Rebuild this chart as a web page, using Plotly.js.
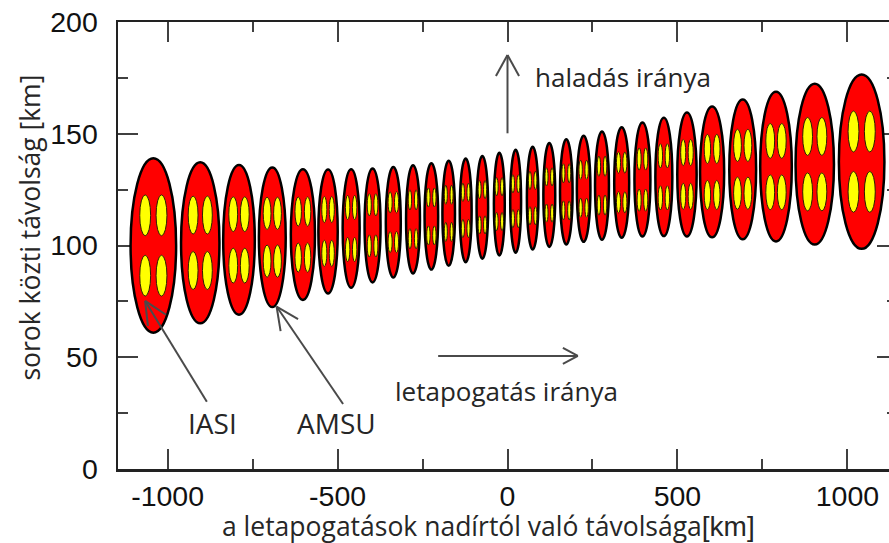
<!DOCTYPE html>
<html>
<head>
<meta charset="utf-8">
<script src="https://cdn.plot.ly/plotly-3.0.1.min.js"></script>
<style>
  html, body { margin: 0; padding: 0; overflow: hidden; background: #fff; }
  #chart { width: 905px; height: 543px; }
</style>
</head>
<body>
<div id="chart"></div>
<script>
// ---- data ----
// AMSU footprint centres across the scan (km from nadir) and along-track position (km)
const scanX = [-1042, -904, -790, -692, -602, -528, -460, -397, -336, -278, -224, -173, -123, -74, -24,
               24, 74, 123, 173, 224, 278, 336, 397, 460, 528, 602, 692, 790, 904, 1042];
const scanY = [100.0, 101.2, 102.5, 103.7, 104.9, 106.3, 107.6, 109.0, 110.4, 111.7, 113.0, 114.4, 115.7, 117.1, 118.5,
               119.8, 121.2, 122.6, 124.0, 125.4, 126.8, 128.2, 129.5, 130.7, 131.8, 132.9, 134.1, 135.3, 136.4, 137.5];
// AMSU footprint size (cross-track width km, along-track height km)
const amsuW = [134, 113, 93, 79, 71, 57, 50, 47, 44, 41, 40, 37, 35, 34, 32,
               32, 34, 35, 37, 40, 41, 44, 47, 50, 57, 71, 79, 93, 113, 134];
const amsuH = [78, 72, 67, 62.5, 58.5, 55.5, 53, 51, 49.5, 48.5, 47.5, 47, 46.5, 46, 46,
               46, 46, 46.5, 47, 47.5, 48.5, 49.5, 51, 53, 55.5, 58.5, 62.5, 67, 72, 78];
// IASI pixels (2x2 inside each AMSU footprint): offsets from centre and size
const iasiDx = [24, 21, 17, 15.3, 13.8, 11, 10.3, 9.7, 9.4, 9.1, 8.8, 8.5, 8.2, 8, 8,
                8, 8, 8.2, 8.5, 8.8, 9.1, 9.4, 9.7, 10.3, 11, 13.8, 15.3, 17, 21, 24];
const iasiDy = [13.5, 12.4, 11.5, 10.7, 10.3, 9.8, 9.4, 9.2, 8.9, 8.7, 8.5, 8.3, 8.1, 7.9, 7.8,
                7.8, 7.9, 8.1, 8.3, 8.5, 8.7, 8.9, 9.2, 9.4, 9.8, 10.3, 10.7, 11.5, 12.4, 13.5];
const iasiW = [32, 29, 26, 23, 19, 15, 13, 12, 12, 10, 10, 9, 9, 9, 9,
               9, 9, 9, 9, 10, 10, 12, 12, 13, 15, 19, 23, 26, 29, 32];
const iasiH = [18.3, 17, 15.6, 14.4, 13, 11.7, 10.8, 9.9, 9.4, 9, 8.5, 8.5, 8.1, 8.1, 8.1,
               8.1, 8.1, 8.1, 8.5, 8.5, 9, 9.4, 9.9, 10.8, 11.7, 13, 14.4, 15.6, 17, 18.3];

// axis ticks
const xTicks = [-1000, -500, 0, 500, 1000];
const yTicks = [0, 50, 100, 150, 200];

// annotation arrows (segments in data units: x0, y0, x1, y1)
const arrowSegs = [
  [0, 150.2, 0, 185.2], [0, 185.2, -34, 175.8], [0, 185.2, 34, 175.8],             // haladás iránya
  [-204, 50.6, 207, 50.6], [207, 50.6, 163, 54.2], [207, 50.6, 163, 47.0],         // letapogatás iránya
  [-884.6, 30.1, -1066.2, 75.2], [-1066.2, 75.2, -1057.9, 64.0], [-1066.2, 75.2, -1005, 69.0], // IASI
  [-483.8, 29.1, -679.4, 72.7], [-679.4, 72.7, -667.6, 61.7], [-679.4, 72.7, -616.2, 67.1]     // AMSU
];
const labelText = ['haladás iránya', 'letapogatás iránya', 'IASI', 'AMSU'];
const labelX = [74, -3, -868, -503];
const labelY = [175.6, 34.9, 20.6, 20.6];
const labelAnchor = ['left', 'center', 'center', 'center'];
const labelSize = [26, 26, 28, 28];

// ---- build shapes ----
const shapes = [];
for (let i = 0; i < scanX.length; i++) {
  const cx = scanX[i], cy = scanY[i];
  shapes.push({
    type: 'circle', xref: 'x', yref: 'y',
    x0: cx - amsuW[i] / 2, x1: cx + amsuW[i] / 2,
    y0: cy - amsuH[i] / 2, y1: cy + amsuH[i] / 2,
    fillcolor: '#ff0000', line: { color: '#000000', width: 2.5 }
  });
  for (const sy of [-1, 1]) {
    for (const sx of [-1, 1]) {
      const px = cx + sx * iasiDx[i], py = cy + sy * iasiDy[i];
      shapes.push({
        type: 'circle', xref: 'x', yref: 'y',
        x0: px - iasiW[i] / 2, x1: px + iasiW[i] / 2,
        y0: py - iasiH[i] / 2, y1: py + iasiH[i] / 2,
        fillcolor: '#ffff00', line: { color: '#2a2200', width: 1 }
      });
    }
  }
}
for (const s of arrowSegs) {
  shapes.push({
    type: 'line', xref: 'x', yref: 'y',
    x0: s[0], y0: s[1], x1: s[2], y1: s[3],
    line: { color: '#4a4a4a', width: 2 }
  });
}

const annotations = labelText.map((t, i) => ({
  text: t, x: labelX[i], y: labelY[i], xref: 'x', yref: 'y',
  xanchor: labelAnchor[i], yanchor: 'middle', showarrow: false,
  font: { family: 'Open Sans', size: labelSize[i], color: '#262626' }
}));
// axis titles (placed as in the reference)
annotations.push({
  text: 'a letapogatások nadírtól való távolsága<span style="font-family:\'Liberation Sans\'; font-size:28px">[km]</span>',
  xref: 'paper', yref: 'paper', x: 0.4756, y: -0.127, xanchor: 'center', yanchor: 'middle',
  showarrow: false, font: { family: 'Open Sans', size: 26.5, color: '#262626' }
});
annotations.push({
  text: 'sorok közti távolság [km]',
  xref: 'paper', yref: 'paper', x: -0.113, y: 0.54, xanchor: 'center', yanchor: 'middle',
  textangle: -90, showarrow: false, font: { family: 'Open Sans', size: 26.5, color: '#262626' }
});

const trace = {
  type: 'scatter', mode: 'markers', x: scanX, y: scanY,
  marker: { size: 1, opacity: 0 }, hoverinfo: 'x+y', showlegend: false
};

const axisCommon = {
  showgrid: false, zeroline: false, showline: true, linecolor: '#222222', linewidth: 2.5,
  mirror: 'ticks', ticks: 'inside', ticklen: 20, tickwidth: 2, tickcolor: '#404040',
  tickfont: { family: 'Liberation Sans', size: 28.5, color: '#111111' }
};

const layout = {
  width: 905, height: 543,
  margin: { l: 118, r: 8, t: 22, b: 74 },
  paper_bgcolor: '#ffffff', plot_bgcolor: '#ffffff',
  showlegend: false,
  xaxis: Object.assign({}, axisCommon, {
    range: [-1146, 1146], tickmode: 'array', tickvals: xTicks, ticktext: xTicks.map(String),
    minor: { dtick: 250, tick0: 0, ticklen: 10, tickwidth: 2, tickcolor: '#404040', ticks: 'inside' },
    ticklabelstandoff: 0
  }),
  yaxis: Object.assign({}, axisCommon, {
    range: [0, 200], tickmode: 'array', tickvals: yTicks, ticktext: yTicks.map(String),
    minor: { dtick: 25, tick0: 0, ticklen: 10, tickwidth: 2, tickcolor: '#404040', ticks: 'inside' },
    ticklabelstandoff: 12
  }),
  shapes: shapes,
  annotations: annotations
};

Plotly.newPlot('chart', [trace], layout, { displayModeBar: false, staticPlot: true });
</script>
</body>
</html>
